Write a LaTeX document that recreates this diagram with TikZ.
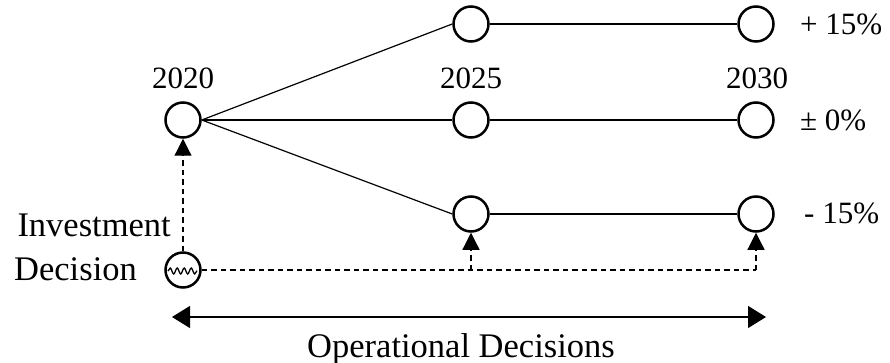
\documentclass[tikz,border=0pt]{standalone}
\usepackage{fontspec}
\setmainfont{Liberation Serif}
\usetikzlibrary{arrows.meta,decorations.pathmorphing}

\tikzset{
  state/.style={circle, draw, line width=2.5pt, minimum size=35pt, inner sep=0pt, fill=white},
  branch/.style={line width=1.2pt},
  trigger/.style={line width=1.2pt, dash pattern=on 5.5pt off 4pt},
  trigtip/.style={-{Triangle[length=17pt,width=17pt]}},
  yearlbl/.style={font=\fontsize{31}{36}\selectfont, inner sep=0pt, anchor=base},
  pctlbl/.style={font=\fontsize{31}{36}\selectfont, inner sep=0pt, anchor=base west},
  biglbl/.style={font=\fontsize{34.5}{40}\selectfont, inner sep=0pt},
}

\begin{document}
\begin{tikzpicture}[x=1pt, y=-1pt]
  \useasboundingbox (0,0) rectangle (890,363);

  % decision tree states
  \node[state] (s20) at (183,120) {};
  \node[state] (u25) at (471,24) {};
  \node[state] (m25) at (471,120) {};
  \node[state] (d25) at (471,214) {};
  \node[state] (u30) at (756,24) {};
  \node[state] (m30) at (756,120) {};
  \node[state] (d30) at (756,214) {};

  % investment decision (hatched)
  \node[state] (inv) at (183,270) {};
  \draw[line width=1.3pt, decorate, decoration={snake, amplitude=3pt, segment length=7pt}]
    ([xshift=-15pt,yshift=-1pt]inv.center) -- ([xshift=14pt,yshift=-1pt]inv.center);

  % branches
  \draw[branch] (s20.east) -- (u25.west);
  \draw[branch] (s20.east) -- (m25.west);
  \draw[branch] (s20.east) -- (d25.west);
  \draw[branch] (u25.east) -- (u30.west);
  \draw[branch] (m25.east) -- (m30.west);
  \draw[branch] (d25.east) -- (d30.west);

  % dashed decision links
  \coordinate (j25) at (d25.center |- inv.center);
  \coordinate (j30) at (d30.center |- inv.center);
  \draw[trigger, trigtip] (inv.north) -- (s20.south);
  \draw[trigger] (inv.east) -- (j30);
  \draw[trigger, trigtip] (j25) -- (d25.south);
  \draw[trigger, trigtip] (j30) -- (d30.south);

  % labels
  \node[yearlbl] (l20) at (183,89) {2020};
  \node[yearlbl] (l25) at (471,89) {2025};
  \node[yearlbl] (l30) at (757,89) {2030};
  \node[pctlbl] (pu) at (800,35) {+ 15\%};
  \node[pctlbl] (pm) at (800,131) {± 0\%};
  \node[pctlbl] (pd) at (804,223) {- 15\%};
  \node[biglbl, anchor=base east] (linv) at (171,236) {Investment};
  \node[biglbl, anchor=base west] (ldec) at (14,280) {Decision};

  % operational horizon
  \coordinate (opl) at (172,317);
  \coordinate (opr) at (766,317);
  \draw[line width=1.3pt, {Triangle[length=18pt,width=22pt]}-{Triangle[length=18pt,width=22pt]}] (opl) -- (opr);
  \node[biglbl, anchor=base] (lop) at (461,357) {Operational Decisions};
\end{tikzpicture}
\end{document}
